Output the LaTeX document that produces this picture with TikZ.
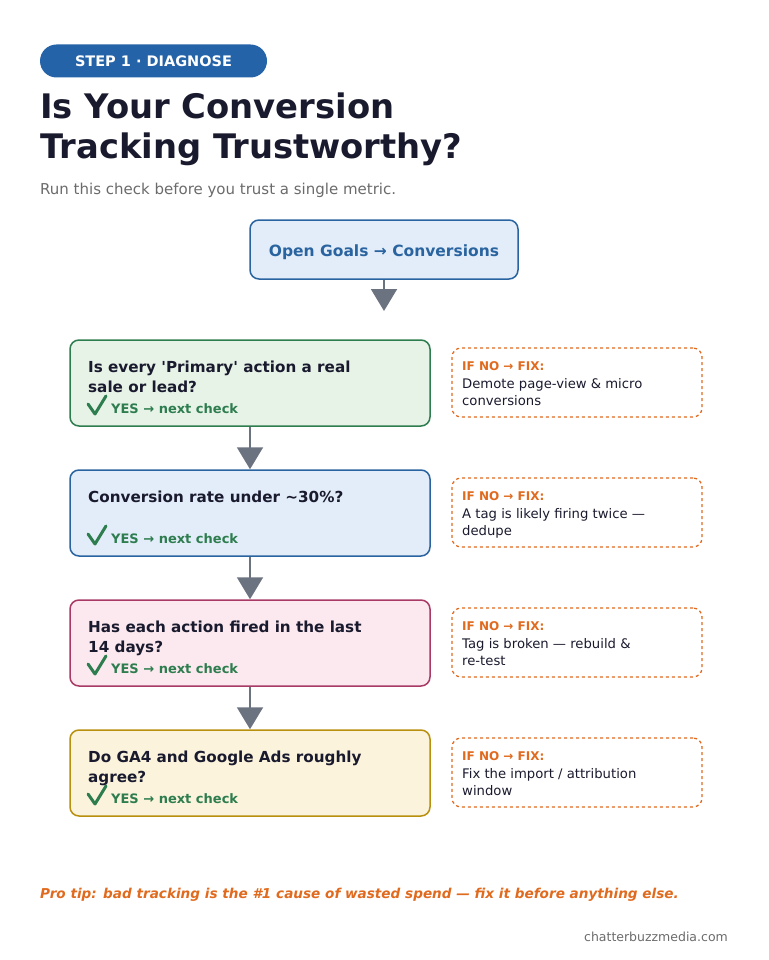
\documentclass[tikz,border=0pt]{standalone}
\usepackage{fontspec}
\setmainfont{DejaVu Sans}
\usetikzlibrary{arrows.meta}
\definecolor{ink}{HTML}{1A1A2E}
\definecolor{pblue}{HTML}{2563A8}
\definecolor{bblue}{HTML}{2A64A0}
\definecolor{fblue}{HTML}{E3EDF9}
\definecolor{bgreen}{HTML}{2E7D4F}
\definecolor{fgreen}{HTML}{E8F3E8}
\definecolor{bpink}{HTML}{A83A65}
\definecolor{fpink}{HTML}{FBE9EF}
\definecolor{byel}{HTML}{B8900E}
\definecolor{fyel}{HTML}{FBF3DC}
\definecolor{orng}{HTML}{E06A1E}
\definecolor{agrey}{HTML}{6B7280}
\definecolor{sgrey}{HTML}{6B6B6B}
\begin{document}
\begin{tikzpicture}[x=1pt,y=-1pt,
  step/.style={draw=#1,line width=1.5pt,rounded corners=9pt,minimum width=360pt,minimum height=86pt},
  fix/.style={draw=orng,dashed,line width=1.3pt,rounded corners=9pt,minimum width=250pt,minimum height=69pt},
  arr/.style={agrey,line width=2pt,-{Triangle[width=26pt,length=22pt]}},
  q/.style={anchor=north west,font=\fontsize{15.2}{20}\selectfont\bfseries,text=ink,align=left,inner sep=0pt},
  yes/.style={anchor=west,font=\fontsize{13}{15}\selectfont\bfseries,text=bgreen,inner sep=0pt},
  fh/.style={anchor=west,font=\fontsize{12}{14}\selectfont\bfseries,text=orng,inner sep=0pt},
  ft/.style={anchor=north west,font=\fontsize{13.2}{17}\selectfont,text=ink,align=left,inner sep=0pt},
  chk/.style={bgreen,line width=3pt,line cap=round,line join=round}]
\useasboundingbox (0,0) rectangle (768,960);
\node[fill=pblue,rounded corners=16.5pt,minimum width=227pt,minimum height=33pt,inner sep=0pt,text=white,font=\fontsize{14.5}{16}\selectfont\bfseries] (pill) at (153.5,61) {STEP 1 · DIAGNOSE};
\node[anchor=north west,inner sep=0pt,align=left,text=ink,font=\fontsize{33.8}{40}\selectfont\bfseries] (title) at (40,93) {Is Your Conversion\\Tracking Trustworthy?};
\node[anchor=west,inner sep=0pt,text=sgrey,font=\fontsize{15}{17}\selectfont] (sub) at (40,190) {Run this check before you trust a single metric.};
\node[draw=bblue,fill=fblue,line width=1.5pt,rounded corners=9pt,minimum width=268pt,minimum height=59pt] (top) at (384,249.5) {};
\node[inner sep=0pt,text=bblue,font=\fontsize{15.5}{18}\selectfont\bfseries] (toplbl) at (384,252) {Open Goals → Conversions};
\coordinate (topend) at (384,311);
\draw[arr] (top.south) -- (topend);
\foreach \i/\y/\bc/\fc in {1/383/bgreen/fgreen,2/513/bblue/fblue,3/643/bpink/fpink,4/773/byel/fyel}{
  \node[step=\bc,fill=\fc] (s\i) at (250,\y) {};
  \node[fix] (f\i) at (577,\y-0.5) {};
  \node[fh] (fh\i) at (462,\y-17) {IF NO → FIX:};
  \node[yes] (y\i) at (111,\y+26) {YES → next check};
  \draw[chk] (88,\y+21) -- (95,\y+31) -- (106,\y+13);
}
\node[q] at (88,361) {Is every \textquotesingle Primary\textquotesingle{} action a real\\sale or lead?};
\node[q] at (88,491) {Conversion rate under \textasciitilde30\%?};
\node[q] at (88,621) {Has each action fired in the last\\14 days?};
\node[q] at (88,751) {Do GA4 and Google Ads roughly\\agree?};
\node[ft] at (462,378) {Demote page-view \& micro\\conversions};
\node[ft] at (462,508) {A tag is likely firing twice —\\dedupe};
\node[ft] at (462,638) {Tag is broken — rebuild \&\\re-test};
\node[ft] at (462,768) {Fix the import / attribution\\window};
\draw[arr] (s1.south) -- (s2.north);
\draw[arr] (s2.south) -- (s3.north);
\draw[arr] (s3.south) -- (s4.north);
\node[anchor=west,inner sep=0pt,text=orng,font=\fontsize{13.6}{16}\selectfont\bfseries\itshape] (tip) at (40,895) {Pro tip: bad tracking is the \#1 cause of wasted spend — fix it before anything else.};
\node[anchor=east,inner sep=0pt,text=sgrey,font=\fontsize{12.5}{14}\selectfont] (url) at (728,937) {chatterbuzzmedia.com};
\end{tikzpicture}
\end{document}
